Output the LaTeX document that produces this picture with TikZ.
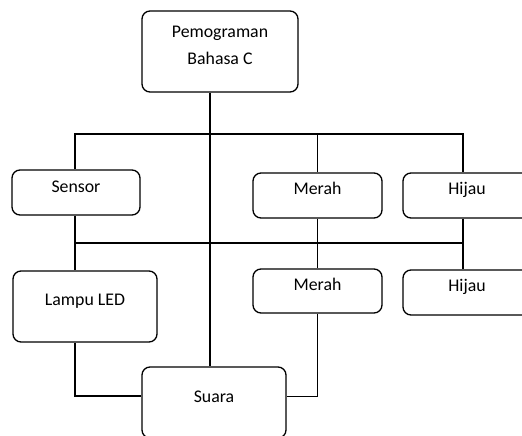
\documentclass[tikz,border=0pt]{standalone}
\usepackage{fontspec}
\setmainfont{Carlito}
\begin{document}
\begin{tikzpicture}[x=1pt,y=-1pt,
  box/.style={draw=black,line width=1.3pt,rounded corners=8pt,fill=white,rectangle,inner sep=0pt},
  lbl/.style={font=\fontsize{17.8}{27}\selectfont,inner sep=0pt,anchor=base},
  conn/.style={draw=black,line width=1.2pt},
  thin/.style={draw=black,line width=0.7pt}]
\useasboundingbox (0,0) rectangle (522,436);
% boxes
\node[box,minimum width=156pt,minimum height=81pt] (top) at (220,51.5) {};
\node[box,minimum width=128pt,minimum height=45pt] (sensor) at (76,192.5) {};
\node[box,minimum width=129pt,minimum height=45pt] (merah1) at (317.5,195.5) {};
\node[box,minimum width=128pt,minimum height=45pt] (hijau1) at (467,195.5) {};
\node[box,minimum width=129pt,minimum height=44pt] (merah2) at (317.5,291) {};
\node[box,minimum width=128pt,minimum height=45pt] (hijau2) at (467,292.5) {};
\node[box,minimum width=144pt,minimum height=71pt] (lampu) at (85,306.5) {};
\node[box,minimum width=144pt,minimum height=71pt] (suara) at (214,402.5) {};
% labels
\node[font=\fontsize{17.8}{27}\selectfont,align=center,inner sep=0pt] (toplbl) at (220,45) {Pemograman\\Bahasa C};
\node[lbl] (sensorlbl) at (76,192) {Sensor};
\node[lbl] (merah1lbl) at (317.5,194) {Merah};
\node[lbl] (hijau1lbl) at (467,194) {Hijau};
\node[lbl] (merah2lbl) at (317.5,290) {Merah};
\node[lbl] (hijau2lbl) at (467,291) {Hijau};
\node[lbl] (lampulbl) at (85,305) {Lampu LED};
\node[lbl] (suaralbl) at (214,402) {Suara};
% connector guide coordinates
\coordinate (b1) at (210,134);
\coordinate (b2) at (210,243);
\coordinate (b3) at (210,396);
\coordinate (sx) at (75,0);
\coordinate (mx) at (317,0);
\coordinate (hx) at (463,0);
% connectors
\draw[conn] (top.south -| b1) -- (suara.north -| b1);
\draw[conn] (sensor.north -| sx) -- (sx |- b1) -- (hx |- b1) -- (hijau1.north -| hx);
\draw[thin] (mx |- b1) -- (merah1.north -| mx);
\draw[thin] (merah1.south -| mx) -- (merah2.north -| mx);
\draw[conn] (sensor.south -| sx) -- (lampu.north -| sx);
\draw[conn] (sx |- b2) -- (hx |- b2);
\draw[conn] (hijau1.south -| hx) -- (hijau2.north -| hx);
\draw[conn] (lampu.south -| sx) -- (sx |- b3) -- (suara.west |- b3);
\draw[thin] (merah2.south -| mx) -- (mx |- b3) -- (suara.east |- b3);
\end{tikzpicture}
\end{document}
